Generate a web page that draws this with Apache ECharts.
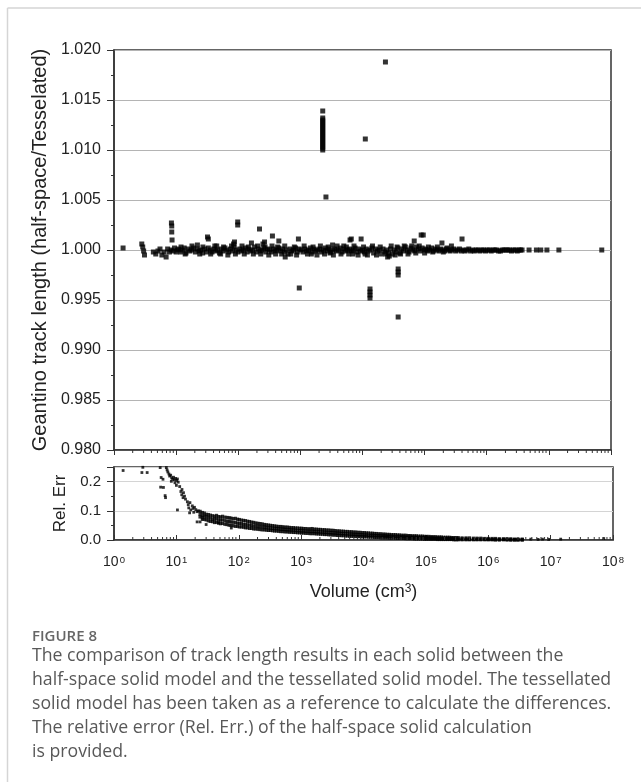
<!DOCTYPE html>
<html><head><meta charset="utf-8">
<script src="https://cdn.jsdelivr.net/npm/echarts@6/dist/echarts.min.js"></script>
<style>html,body{margin:0;padding:0;background:#fff;}#c{width:641px;height:782px;}</style>
</head><body><div id="c"></div>
<script>
// ---------- DATA ----------
// Volume decade exponents used as x tick labels (10^n)
const volumeExponents = [0,1,2,3,4,5,6,7,8];
const ratioTicks = [0.980,0.985,0.990,0.995,1.000,1.005,1.010,1.015,1.020];
const relErrTicks = [0.0,0.1,0.2];

// Upper panel: [volume cm3, track length ratio half-space/tessellated]
const ratioSmall = [[1.4,1.0002],[2.8,1.0006],[2.9,1.0003],[3.0,0.9999],[3.1,0.9995],[4.3,0.9998],[4.7,0.9996],[5.1,0.9999],[5.5,1.0001],[5.9,0.9995],[6.4,0.9998],[6.9,0.9993],[7.3,1.0001],[7.8,0.9998],[8.3,1.0000],[8.6,1.0010],[8.5,1.0018],[8.5,1.0024],[8.4,1.0027],[8.9,0.9999],[9.4,1.0002],[10.0,0.9998]];
const ratioBand = [[10.5,1.0000],[11,1.0001],[11.8,0.9998],[12.6,1.0000],[13.5,1.0002],[14.4,0.9997],[15.5,1.0001],[16.6,0.9999],[17.8,1.0000],[19,1.0002],[20.4,0.9998],[21.8,1.0001],[23.4,0.9999],[25,1.0000],[26.8,0.9997],[28.7,1.0001],[30.8,0.9998],[33,1.0002],[35.3,1.0000],[37.8,0.9998],[40.5,1.0001],[43.4,0.9999],[46.5,1.0000],[49.8,0.9997],[53.3,1.0001],[57.1,0.9999],[61.2,1.0002],[65.5,1.0000],[70.2,0.9998],[75.2,1.0001],[80.5,0.9999],[86.3,1.0003],[92.4,1.0000],[99,0.9998],
[106,1.0001],[113,0.9999],[121,1.0000],[130,1.0002],[139,0.9998],[149,1.0001],[160,0.9999],[171,1.0000],[183,1.0003],[196,0.9998],[210,1.0001],[225,0.9999],[241,1.0000],[258,1.0002],[277,0.9998],[296,1.0001],[318,1.0000],[340,0.9998],[365,1.0001],[391,0.9999],[418,1.0000],[448,1.0002],[480,0.9999],[515,1.0001],[551,0.9998],[590,1.0000],[633,0.9996],[678,1.0001],[726,0.9999],[778,1.0000],[833,1.0002],[893,0.9998],[956,1.0001],
[1020,1.0000],[1100,0.9998],[1180,1.0001],[1260,0.9999],[1350,1.0000],[1450,1.0002],[1500,0.9996],[1550,0.9998],[1660,1.0001],[1780,0.9999],[1910,1.0000],[2050,1.0001],[2200,0.9998],[2350,1.0000],[2520,1.0002],[2700,0.9999],[2890,1.0001],[3000,0.9997],[3100,0.9998],[3320,1.0000],[3560,1.0001],[3810,0.9999],[4080,1.0000],[4370,1.0002],[4680,0.9998],[5020,1.0001],[5380,0.9999],[5760,1.0000],[6170,1.0001],[6610,0.9999],[7000,0.9996],[7080,1.0000],[7590,1.0002],[8130,0.9998],[8710,1.0001],[9330,0.9999],
[10000,1.0000],[10700,0.9998],[11500,1.0001],[12000,0.9995],[12300,0.9999],[13200,1.0000],[14100,1.0002],[15100,0.9997],[16200,1.0001],[17400,0.9999],[18600,1.0000],[20000,0.9996],[21400,1.0001],[22900,0.9998],[24500,1.0000],[26300,0.9997],[27000,0.9994],[28200,1.0001],[30200,0.9996],[32400,1.0000],[34700,0.9998],[37200,1.0002],[39800,0.9997],[42700,1.0001],[45700,0.9999],[49000,1.0003],[52500,1.0000],[56200,0.9998],[60300,1.0002],[64600,1.0000],[69200,0.9999],[74100,1.0003],[79400,1.0001],[85100,0.9999],[91200,1.0002],[97700,1.0000],
[105000,1.0001],[112000,0.9999],[120000,1.0000],[129000,1.0002],[138000,0.9999],[148000,1.0001],[158000,1.0000],[170000,0.9999],[182000,1.0001],[195000,1.0000],[209000,0.9999],[224000,1.0001],[240000,1.0000],[257000,0.9999],[275000,1.0000],[295000,1.0001],[316000,0.9999],[339000,1.0000],[363000,1.0001],[389000,0.9999],[417000,1.0000],[447000,0.9999],[479000,1.0000],[513000,1.0001],[550000,0.9999],[589000,1.0000],[631000,0.9999],[676000,1.0000],[724000,1.0000],[776000,0.9999],[832000,1.0000],[891000,1.0000],[955000,0.9999],[1020000,1.0000],[1100000,1.0000],[1180000,0.9999],[1260000,1.0000],[1350000,1.0000],[1450000,1.0000],[1550000,0.9999],[1660000,0.9999],[1780000,1.0000],[1900000,1.0000],[2050000,1.0000],[2200000,1.0000],[2350000,1.0000],[2500000,0.9999],[2700000,1.0000],[2900000,1.0000],[3100000,0.9999],[3300000,1.0000],[3500000,1.0000],[3700000,1.0000],
[4800000,1.0000],[6300000,1.0000],[7400000,1.0000],[9300000,1.0000],[14500000,1.0000],[71000000,1.0000]];
const ratioBandSpread = [[12,1.0003],[14,0.9996],[18,1.0004],[24,0.9996],[27,1.0003],[36,0.9996],[42,1.0004],[52,0.9996],[58,1.0003],[68,0.9995],[78,1.0004],[90,0.9996],[115,1.0004],[125,0.9996],[145,1.0003],[175,0.9996],[205,1.0004],[230,0.9996],[270,1.0003],[310,0.9995],[350,1.0004],[400,0.9996],[430,1.0003],[500,0.9996],[560,1.0004],[700,0.9996],[800,1.0003],[870,0.9995],[1150,1.0004],[1300,0.9996],[1600,1.0003],[1850,0.9995],[2100,1.0004],[2450,0.9996],[2800,1.0003],[3400,0.9995],[3900,1.0004],[4500,0.9996],[5500,1.0003],[6000,0.9996],[7300,1.0004],[8500,0.9995],[10400,1.0003],[11000,0.9996],[14500,1.0004],[16800,0.9995],[19300,1.0003],[23700,0.9996],[25400,0.9993],[29000,1.0004],[33500,0.9995],[36000,1.0003],[41000,0.9996],[47000,1.0004],[54000,0.9996],[62000,1.0004],[72000,0.9997],[82000,1.0004],[100000,0.9997],[115000,1.0003],[135000,0.9998],[160000,1.0003],[200000,0.9998],[230000,1.0002]];
const ratioOutliers = [[98,1.0028],[98,1.0025],[220,1.0021],[32,1.0013],[33,1.0011],[355,1.0014],[450,1.0009],[930,1.0011],[960,0.9962],[570,0.9993],[22,1.0005],[45,1.0004],[84,1.0006],[87,1.0008],[163,1.0007],[265,1.0008],[250,1.0006],[3300,1.0005],[5000,1.0004],[6300,1.0010],[6600,1.0011],[9500,1.0011],[68000,1.0009],[88000,1.0015],[95000,1.0015],[190000,1.0007],[270000,1.0004],[400000,1.0011],
[37500,0.9981],[37500,0.9978],[37500,0.9975],[37500,0.9933],[13200,0.9961],[13200,0.9958],[13200,0.9955],[13200,0.9952],[23400,1.0188],[11100,1.0111],[2580,1.0053],[2290,1.0139],
[2290,1.0100],[2290,1.0102],[2290,1.0104],[2290,1.0106],[2290,1.0108],[2290,1.0110],[2290,1.0112],[2290,1.0114],[2290,1.0116],[2290,1.0118],[2290,1.0120],[2290,1.0122],[2290,1.0124],[2290,1.0126],[2290,1.0128],[2290,1.0130],[2290,1.0132]];

// Lower panel: relative error. Scattered points [volume, rel err]
const relErrScatter = [[1.4,0.238],[2.8,0.231],[2.9,0.249],[3.4,0.231],[5.5,0.248],[5.7,0.214],[6.1,0.208],[5.6,0.181],[6.2,0.180],[6.6,0.152],[6.7,0.145],[6.9,0.248],[7.1,0.240],[7.3,0.233],[7.6,0.226],[7.8,0.219],[8.1,0.222],[8.4,0.213],[8.7,0.208],[9.0,0.215],[9.3,0.206],[9.7,0.211],[10.1,0.204],[10.4,0.209],[10.7,0.198],[8.3,0.201],[9.5,0.196],[10.0,0.187],[10.4,0.103],[11.3,0.183],[11.8,0.166],[12.3,0.173],[12.2,0.155],[13.0,0.162],[12.8,0.145],[13.5,0.150],[14.0,0.140],[15.0,0.131],[15.5,0.121],[15.8,0.110],[16.5,0.128],[17.0,0.103],[16.3,0.093],[18.0,0.117],[18.5,0.108],[19.5,0.112],[20.5,0.104],[21.5,0.097],[22.5,0.100],[19.0,0.095],[21.5,0.062],[24.0,0.062],[47,0.059],[76,0.041],[30,0.053],[26,0.070],
[4800000,0.003],[6300000,0.002],[7400000,0.003],[9300000,0.002],[14500000,0.003],[71000000,0.005]];
// Dense band: [volume, upper, middle, lower] relative error
const relErrBand = [[24,0.098,0.088,0.079],[26,0.094,0.083,0.076],[28,0.092,0.082,0.071],[30,0.088,0.079,0.069],[32.5,0.087,0.077,0.066],[35,0.085,0.075,0.064],[38,0.083,0.072,0.063],[41,0.081,0.071,0.060],[44,0.084,0.073,0.061],[47.5,0.080,0.069,0.058],[51,0.079,0.068,0.056],[55,0.081,0.069,0.057],[60,0.078,0.066,0.054],[65,0.077,0.064,0.053],[70,0.076,0.064,0.051],[75,0.075,0.062,0.050],[81,0.073,0.061,0.049],[88,0.074,0.060,0.047],[95,0.071,0.058,0.047],
[102,0.070,0.057,0.045],[110,0.068,0.056,0.045],[119,0.067,0.054,0.044],[128,0.066,0.053,0.042],[138,0.064,0.052,0.042],[149,0.063,0.051,0.040],[161,0.061,0.050,0.040],[174,0.060,0.048,0.038],[188,0.058,0.048,0.038],[203,0.057,0.046,0.037],[219,0.056,0.046,0.036],[237,0.055,0.045,0.035],[256,0.053,0.044,0.035],[276,0.052,0.043,0.034],[298,0.051,0.042,0.033],[322,0.050,0.041,0.033],[348,0.049,0.040,0.032],[376,0.048,0.039,0.031],[406,0.047,0.039,0.031],[438,0.046,0.038,0.030],[473,0.046,0.037,0.029],[511,0.045,0.037,0.029],[552,0.044,0.036,0.028],[596,0.044,0.035,0.028],[644,0.043,0.035,0.027],[695,0.042,0.034,0.027],[751,0.042,0.034,0.026],[811,0.041,0.033,0.026],[876,0.041,0.032,0.025],[946,0.040,0.032,0.025],
[1020,0.040,0.031,0.024],[1100,0.039,0.031,0.024],[1190,0.039,0.030,0.023],[1290,0.038,0.030,0.023],[1390,0.038,0.029,0.022],[1500,0.039,0.030,0.022],[1620,0.037,0.029,0.022],[1750,0.037,0.028,0.021],[1890,0.036,0.028,0.021],[2040,0.036,0.027,0.020],[2210,0.035,0.027,0.020],[2380,0.035,0.026,0.019],[2570,0.034,0.026,0.019],[2780,0.034,0.025,0.018],[3000,0.033,0.025,0.018],[3240,0.033,0.024,0.017],[3500,0.032,0.024,0.017],[3780,0.031,0.023,0.016],[4080,0.031,0.023,0.016],[4410,0.030,0.022,0.015],[4760,0.030,0.022,0.015],[5140,0.029,0.021,0.014],[5550,0.029,0.021,0.014],[6000,0.028,0.020,0.013],[6480,0.028,0.020,0.013],[7000,0.027,0.019,0.013],[7560,0.027,0.019,0.012],[8160,0.026,0.018,0.012],[8810,0.026,0.018,0.012],[9520,0.025,0.018,0.011],
[10300,0.025,0.017,0.011],[11100,0.024,0.017,0.011],[12000,0.024,0.016,0.010],[13000,0.023,0.016,0.010],[14000,0.023,0.016,0.010],[15100,0.022,0.015,0.009],[16300,0.022,0.015,0.009],[17600,0.021,0.015,0.009],[19000,0.021,0.014,0.008],[20600,0.020,0.014,0.008],[22200,0.020,0.014,0.008],[24000,0.019,0.013,0.008],[25900,0.019,0.013,0.007],[28000,0.018,0.013,0.007],[30200,0.018,0.012,0.007],[32600,0.018,0.012,0.007],[35200,0.017,0.012,0.006],[38000,0.017,0.011,0.006],[41100,0.016,0.011,0.006],[44400,0.016,0.011,0.006],[47900,0.016,0.010,0.005],[51800,0.015,0.010,0.005],[55900,0.015,0.010,0.005],[60400,0.014,0.009,0.005],[65200,0.014,0.009,0.004],[70400,0.014,0.009,0.004],[76100,0.013,0.008,0.004],[82200,0.013,0.008,0.004],[88700,0.013,0.008,0.004],[95800,0.012,0.008,0.003],
[103000,0.012,0.007,0.003],[112000,0.012,0.007,0.003],[121000,0.011,0.007,0.003],[130000,0.011,0.007,0.003],[141000,0.011,0.006,0.003],[152000,0.010,0.006,0.002],[164000,0.010,0.006,0.002],[177000,0.010,0.006,0.002],[191000,0.009,0.005,0.002],[207000,0.009,0.005,0.002],[223000,0.009,0.005,0.002],[241000,0.009,0.005,0.002],[260000,0.008,0.005,0.002],[281000,0.008,0.004,0.001],[304000,0.008,0.004,0.001],[330000,0.008,0.004,0.001],[380000,0.007,0.004,0.001],[440000,0.007,0.004,0.001],[500000,0.007,0.003,0.001],[580000,0.006,0.003,0.001],[660000,0.006,0.003,0.001],[760000,0.006,0.003,0.001],[880000,0.005,0.003,0.001],
[1000000,0.005,0.002,0.001],[1150000,0.005,0.002,0.001],[1300000,0.005,0.002,0.000],[1500000,0.004,0.002,0.000],[1750000,0.004,0.002,0.001],[2000000,0.004,0.002,0.000],[2300000,0.004,0.001,0.000],[2650000,0.003,0.001,0.000],[3000000,0.003,0.001,0.000],[3500000,0.003,0.001,0.000]];

const captionHead = 'FIGURE 8';
const captionLines = [
  'The comparison of track length results in each solid between the',
  'half-space solid model and the tessellated solid model. The tessellated',
  'solid model has been taken as a reference to calculate the differences.',
  'The relative error (Rel. Err.) of the half-space solid calculation',
  'is provided.'
];

// ---------- CHART ----------
const FONT = 'Liberation Sans';
const AX = '#333';
const relBandPoints = [];
relErrBand.forEach(r => { relBandPoints.push([r[0], r[1]], [r[0], r[2]], [r[0], r[3]]); });

// log minor tick positions (2..9 x 10^n) - axis furniture only
const minorTicks = [];
for (let i = 0; i < volumeExponents.length - 1; i++) {
  for (let m = 2; m <= 9; m++) minorTicks.push([m * Math.pow(10, volumeExponents[i])]);
}

const chart = echarts.init(document.getElementById('c'), null, {renderer: 'canvas'});

function minorTickSeries(xi, yv, dir) {
  return {
    type: 'custom', xAxisIndex: xi, yAxisIndex: xi, silent: true, z: 5,
    data: minorTicks,
    renderItem: function (params, api) {
      const p = api.coord([api.value(0), yv]);
      return {type: 'line', shape: {x1: p[0], y1: p[1], x2: p[0], y2: p[1] + dir * 3},
        style: {stroke: AX, lineWidth: 1}};
    }
  };
}

const labelFmt = function (v) {
  const e = Math.round(Math.log10(v));
  const idx = volumeExponents.indexOf(e);
  return idx >= 0 ? '{b|10}{s|' + volumeExponents[idx] + '}' : '';
};

const option = {
  animation: false,
  backgroundColor: '#fff',
  grid: [
    {left: 114, top: 50, width: 497, height: 400, show: true, borderColor: AX, borderWidth: 1.5, backgroundColor: 'transparent'},
    {left: 114, top: 467, width: 499, height: 73, show: true, borderColor: AX, borderWidth: 1.5, backgroundColor: 'transparent'}
  ],
  xAxis: [
    {type: 'log', logBase: 10, gridIndex: 0, min: 1, max: 1e8, splitNumber: 8,
     axisLine: {lineStyle: {color: AX, width: 1.5}}, axisTick: {inside: false, length: 5, lineStyle: {color: AX}},
     axisLabel: {show: false}, splitLine: {show: false}, minorTick: {show: false}},
    {type: 'log', logBase: 10, gridIndex: 1, min: 1, max: 1e8, splitNumber: 8,
     axisLine: {lineStyle: {color: AX, width: 1.5}}, axisTick: {inside: true, length: 5, lineStyle: {color: AX}},
     axisLabel: {show: true, margin: 15, formatter: labelFmt, color: '#222',
       rich: {b: {fontSize: 14, fontFamily: FONT, color: '#222', verticalAlign: 'bottom'},
              s: {fontSize: 9.5, fontFamily: FONT, color: '#222', verticalAlign: 'top', padding: [0, 0, 0, 1]}}},
     splitLine: {show: false},
     name: 'Volume (cm{s|3})', nameLocation: 'middle', nameGap: 43,
     nameTextStyle: {fontSize: 18, fontFamily: FONT, color: '#222',
       rich: {s: {fontSize: 12, fontFamily: FONT, color: '#222', verticalAlign: 'top'}}}}
  ],
  yAxis: [
    {type: 'value', gridIndex: 0, min: ratioTicks[0], max: ratioTicks[ratioTicks.length - 1], interval: 0.005,
     axisLine: {show: true, lineStyle: {color: AX, width: 1.5}},
     axisTick: {show: true, inside: false, length: 7, lineStyle: {color: AX}},
     minorTick: {show: true, splitNumber: 2, length: 3, lineStyle: {color: AX}},
     axisLabel: {margin: 13, fontSize: 16, fontFamily: FONT, color: '#222', formatter: v => v.toFixed(3)},
     splitLine: {show: true, lineStyle: {color: '#b4b4b4', width: 1}},
     name: 'Geantino track length (half-space/Tesselated)', nameLocation: 'middle', nameGap: 63,
     nameTextStyle: {fontSize: 20, fontFamily: FONT, color: '#222'}},
    {type: 'value', gridIndex: 1, min: 0, max: 0.25, interval: 0.1,
     axisLine: {show: true, lineStyle: {color: AX, width: 1.5}},
     axisTick: {show: true, inside: false, length: 7, lineStyle: {color: AX}},
     minorTick: {show: true, splitNumber: 2, length: 3, lineStyle: {color: AX}},
     axisLabel: {margin: 13, fontSize: 15, fontFamily: FONT, color: '#222', showMaxLabel: false,
       formatter: v => (relErrTicks.some(t => Math.abs(t - v) < 1e-9) ? v.toFixed(1) : '')},
     splitLine: {show: true, lineStyle: {color: '#d4d4d4', width: 1.2}},
     name: 'Rel. Err', nameLocation: 'middle', nameGap: 41,
     nameTextStyle: {fontSize: 17, fontFamily: FONT, color: '#222'}}
  ],
  series: [
    {type: 'scatter', xAxisIndex: 0, yAxisIndex: 0, symbol: 'rect', symbolSize: 5, itemStyle: {color: '#000'}, data: ratioSmall, z: 3},
    {type: 'scatter', xAxisIndex: 0, yAxisIndex: 0, symbol: 'rect', symbolSize: 5, itemStyle: {color: '#000'}, data: ratioBand, z: 3},
    {type: 'scatter', xAxisIndex: 0, yAxisIndex: 0, symbol: 'rect', symbolSize: 5, itemStyle: {color: '#000'}, data: ratioBandSpread, z: 3},
    {type: 'scatter', xAxisIndex: 0, yAxisIndex: 0, symbol: 'rect', symbolSize: 5, itemStyle: {color: '#000'}, data: ratioOutliers, z: 3},
    {type: 'scatter', xAxisIndex: 1, yAxisIndex: 1, symbol: 'rect', symbolSize: 2.8, itemStyle: {color: '#000'}, data: relErrScatter, z: 3},
    {type: 'scatter', xAxisIndex: 1, yAxisIndex: 1, symbol: 'rect', symbolSize: 3.3, itemStyle: {color: '#000'}, data: relBandPoints, z: 3},
    minorTickSeries(0, ratioTicks[0], 1),
    minorTickSeries(1, 0, -1)
  ],
  graphic: [
    {type: 'line', silent: true, shape: {x1: 7.5, y1: 8, x2: 7.5, y2: 782}, style: {stroke: '#d5d5d5', lineWidth: 1.5}},
    {type: 'line', silent: true, shape: {x1: 7.5, y1: 8, x2: 641, y2: 8}, style: {stroke: '#d5d5d5', lineWidth: 1.5}},
    {type: 'text', x: 32, y: 637, style: {text: captionHead, font: '600 15px "Open Sans"', fill: '#666', verticalAlign: 'middle'}}
  ].concat(captionLines.map((t, i) => ({
    type: 'text', x: 32, y: 656 + i * 24,
    style: {text: t, font: '17.7px "Open Sans"', fill: '#585858', verticalAlign: 'middle'}
  })))
};
chart.setOption(option);
</script></body></html>
